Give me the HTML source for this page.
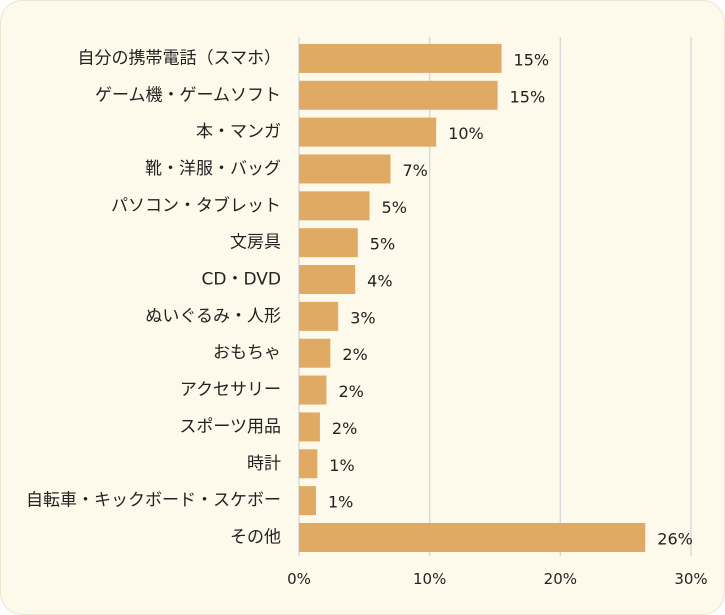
<!DOCTYPE html>
<html><head><meta charset="utf-8"><style>
body{margin:0;background:#fff;}
svg{display:block;font-family:"DejaVu Sans","Noto Sans CJK JP",sans-serif;}
</style></head><body>
<svg id="c" width="725" height="615">
<rect x="0.5" y="0.5" width="724" height="614" rx="22" fill="#fdfaeb" stroke="#ece6cf"/>
</svg>
<script>
const categories=["自分の携帯電話（スマホ）","ゲーム機・ゲームソフト","本・マンガ","靴・洋服・バッグ","パソコン・タブレット","文房具","CD・DVD","ぬいぐるみ・人形","おもちゃ","アクセサリー","スポーツ用品","時計","自転車・キックボード・スケボー","その他"];
const values=[15.5,15.2,10.5,7.0,5.4,4.5,4.3,3.0,2.4,2.1,1.6,1.4,1.3,26.5];
const valueLabels=["15%","15%","10%","7%","5%","5%","4%","3%","2%","2%","2%","1%","1%","26%"];
const ticks=[0,10,20,30];
const tickLabels=["0%","10%","20%","30%"];
const NS="http://www.w3.org/2000/svg";
const svg=document.getElementById('c');
const x0=299,x1=691,xmax=30,top0=37,step=36.85;
const xs=v=>x0+(x1-x0)*v/xmax;
const yc=i=>top0+step*(i+0.5)+3;
function mk(t,a){const e=document.createElementNS(NS,t);for(const k in a)e.setAttribute(k,a[k]);svg.appendChild(e);return e;}
ticks.forEach((t,i)=>{
const g=mk('line',{x1:xs(t),x2:xs(t),y1:37,y2:556,stroke:'#d9d9d9','stroke-width':1.5});


const l=mk('text',{x:xs(t),y:584,'text-anchor':'middle','font-size':15,fill:'#222'});
l.textContent=tickLabels[i];


});
categories.forEach((c,i)=>{
const y=yc(i);
const b=mk('rect',{x:x0,y:y-14.5,width:xs(values[i])-x0,height:29,fill:'#e0aa65'});


const t=mk('text',{x:281,y:y+5,'text-anchor':'end','font-size':17,fill:'#222'});
t.textContent=c;


const v=mk('text',{x:xs(values[i])+12,y:y+7,'font-size':16,fill:'#222'});
v.textContent=valueLabels[i];


});
</script>
</body></html>
